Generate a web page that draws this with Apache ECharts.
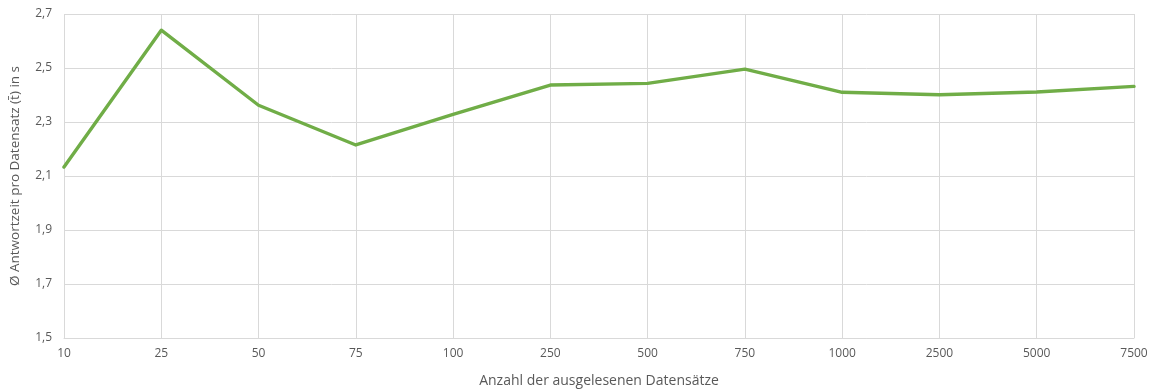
<!DOCTYPE html>
<html>
<head>
<meta charset="utf-8">
<script src="https://cdn.jsdelivr.net/npm/echarts@6/dist/echarts.min.js"></script>
<style>
  html, body { margin: 0; padding: 0; background: #ffffff; }
  #chart { width: 1154px; height: 390px; }
</style>
</head>
<body>
<div id="chart"></div>
<script>
// Anzahl der ausgelesenen Datensätze (Kategorien der x-Achse)
const categories = ['10', '25', '50', '75', '100', '250', '500', '750', '1000', '2500', '5000', '7500'];
// Mittlere Antwortzeit pro Datensatz in Sekunden
const responseTimes = [2.133, 2.64, 2.362, 2.215, 2.328, 2.437, 2.443, 2.496, 2.41, 2.401, 2.411, 2.432];
// Bereich der y-Achse
const yMin = 1.5;
const yMax = 2.7;
const yStep = 0.2;

const fontFamily = '"Open Sans", "Liberation Sans", sans-serif';
const textColor = '#595959';
const gridColor = '#d9d9d9';

const chart = echarts.init(document.getElementById('chart'), null, { renderer: 'canvas' });
chart.setOption({
  animation: false,
  backgroundColor: '#ffffff',
  grid: { left: 64, right: 20, top: 14, bottom: 52, containLabel: false, outerBoundsMode: 'none' },
  xAxis: {
    type: 'category',
    data: categories,
    boundaryGap: false,
    name: 'Anzahl der ausgelesenen Datensätze',
    nameLocation: 'middle',
    nameGap: 36,
    nameTextStyle: { color: textColor, fontFamily: fontFamily, fontSize: 14 },
    axisLine: { show: true, lineStyle: { color: gridColor, width: 1 } },
    axisTick: { show: false },
    axisLabel: { color: textColor, fontFamily: fontFamily, fontSize: 12, margin: 10 },
    splitLine: { show: true, lineStyle: { color: gridColor, width: 1 } }
  },
  yAxis: {
    type: 'value',
    min: yMin,
    max: yMax,
    interval: yStep,
    name: 'Ø Antwortzeit pro Datensatz (t\u0304) in s',
    nameLocation: 'middle',
    nameGap: 42,
    nameTextStyle: { color: textColor, fontFamily: fontFamily, fontSize: 13.5 },
    axisLine: { show: false },
    axisTick: { show: false },
    axisLabel: {
      color: textColor, fontFamily: fontFamily, fontSize: 12, margin: 12,
      formatter: v => v.toFixed(1).replace('.', ',')
    },
    splitLine: { show: true, lineStyle: { color: gridColor, width: 1 } }
  },
  series: [{
    type: 'line',
    data: responseTimes,
    symbol: 'none',
    lineStyle: { color: '#70ad47', width: 3.4, join: 'round', cap: 'round' },
    itemStyle: { color: '#70ad47' }
  }]
});
</script>
</body>
</html>
